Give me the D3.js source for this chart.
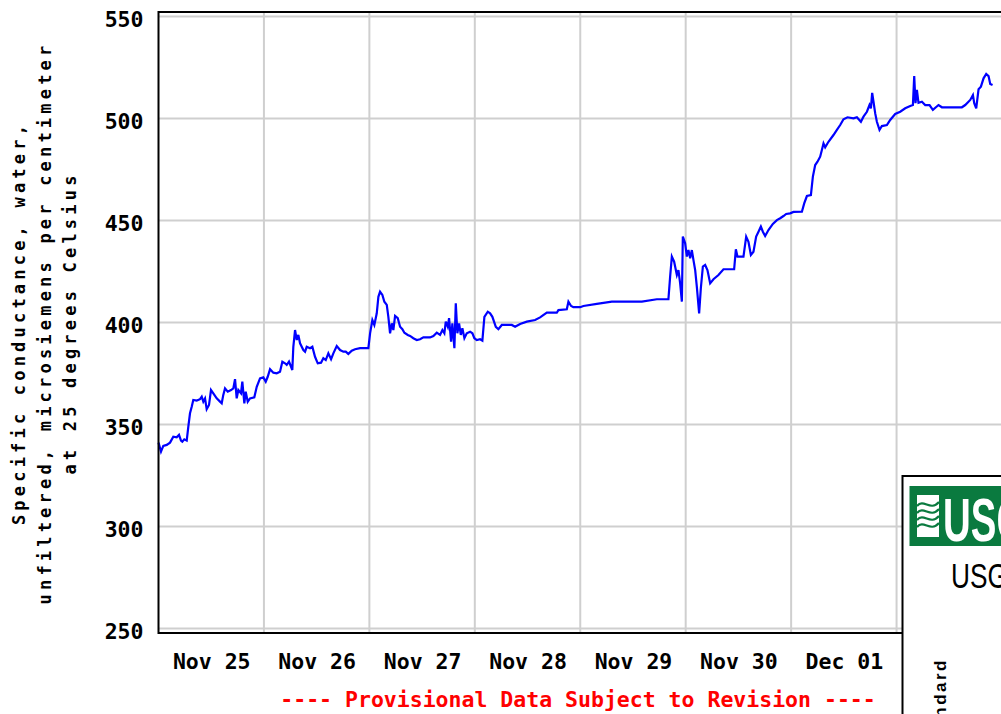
<!DOCTYPE html>
<html><head><meta charset="utf-8">
<script src="https://cdn.jsdelivr.net/npm/d3@7"></script>
<style>body{margin:0;background:#fff;} svg{display:block}</style>
</head><body><svg id="c" width="1001" height="714"></svg>
<script>
// hours since Nov 25 00:00
const hours = [0,0.57,1.09,1.87,2.62,3.37,4.14,4.67,5.12,5.42,5.87,6.42,6.79,7.17,7.56,7.92,8.7,9.45,9.84,10.2,10.59,10.97,11.5,11.95,12.48,13.25,14,14.39,14.75,15.14,15.76,16.51,17.03,17.42,17.8,18.17,18.78,19.08,19.54,19.85,20.31,20.83,21.81,22.36,23.11,23.86,24.41,24.86,25.39,26.14,26.91,27.66,28.19,28.8,29.19,29.71,30.17,30.46,30.69,31.08,31.47,31.83,32.22,32.97,33.36,33.74,34.49,35.02,35.63,36.25,37,37.52,38.07,38.66,39.28,39.8,40.57,41.33,42.08,42.62,43.21,43.99,44.74,45.88,47.77,48.16,48.68,49.13,49.68,50.05,50.43,50.96,51.41,51.96,52.32,52.71,53.1,53.46,53.85,54.46,54.99,55.51,55.97,56.74,57.26,58.01,58.79,59.54,60.29,61.82,62.57,63.34,64.09,64.62,65.07,65.39,65.85,66.14,66.6,66.89,67.35,67.67,68.03,68.42,68.81,69.17,69.63,70.17,70.93,71.45,71.9,72.45,73.2,73.72,74.18,74.95,75.48,76,76.78,77.37,78.14,80.42,81.17,82.31,83.83,85.72,86.86,88.39,90.66,91.03,92.94,93.31,93.92,94.44,95.97,96.72,99.77,103.19,105.83,110.02,113.43,116.07,116.46,116.85,117.37,117.99,118.35,118.74,119.13,119.35,119.88,120.26,120.63,121.02,121.4,121.77,122.16,122.54,123.06,123.45,123.91,124.43,124.95,125.57,126.32,127.46,128.6,131.03,131.42,131.79,133.15,133.77,134.29,134.84,135.43,136.04,136.57,137.11,137.57,138.09,138.84,139.84,140.76,141.51,142.26,142.87,143.78,144.54,146.45,146.98,147.59,148.5,148.95,149.48,150,150.61,151,151.37,151.75,152.5,153.64,154.42,155.17,155.92,156.83,158.2,158.97,159.88,160.47,161.25,161.84,162.16,162.45,162.75,163.14,163.52,164.12,164.66,165.8,166.55,167.69,168.83,169.97,171.11,171.72,172.02,172.31,172.63,172.99,173.77,174.52,175.5,176.27,177.55,178.32,182.87,183.63,184.77,185.38,185.68,186.13,186.66,187.2,187.8,188.41,188.94,189.32,189.85];
// specific conductance, uS/cm
const values = [341.1,336.7,339.5,340.0,341.1,344.0,343.7,344.9,342.1,341.6,342.7,342.1,348.9,355.5,358.7,362.0,361.7,362.4,363.6,361.2,362.8,357.5,359.6,366.9,365.3,362.8,361.2,360.4,364.5,367.7,366.1,366.9,367.7,372.2,362.8,366.9,365.3,371.0,360.4,366.1,361.2,362.8,363.3,368.5,372.6,373.1,371.0,373.4,377.1,375.4,375.1,375.9,380.8,380.0,379.2,380.8,378.3,376.7,388.1,396.3,391.4,393.9,389.8,386.5,385.7,388.1,387.4,388.1,383.2,380.0,380.3,382.5,381.6,384.9,382.0,384.9,388.5,386.5,385.7,385.7,384.6,386.2,386.9,387.4,387.4,394.7,401.2,398.8,404.5,412.6,415.1,413.5,410.2,408.6,402.8,394.7,399.6,396.3,403.2,402.1,397.9,396.7,395.0,393.9,393.4,392.3,391.4,391.8,392.7,392.7,393.4,395.0,393.9,396.3,394.7,400.4,397.9,402.1,390.6,399.6,387.4,409.4,394.7,399.6,393.9,397.2,392.3,394.7,395.5,394.7,392.3,391.4,391.8,391.1,402.8,405.3,404.5,402.8,397.9,396.7,398.8,398.8,397.9,399.3,400.4,401.2,402.5,404.8,404.8,406.1,406.5,410.2,408.1,407.5,407.5,408.1,409.1,410.2,410.2,410.2,411.4,411.4,422.5,432.3,429.8,423.3,425.7,419.2,410.2,442.1,438.8,432.3,435.5,431.5,435.5,430.6,425.7,417.5,404.5,416.8,427.4,428.2,425.7,419.2,421.2,423.3,426.1,426.1,435.9,432.3,432.3,442.1,439.6,433.1,434.7,442.1,444.5,447.0,444.5,442.4,445.3,448.3,450.2,451.1,452.2,453.2,453.5,454.2,454.3,458.4,462.0,462.5,471.5,477.2,478.8,481.3,484.6,487.8,485.9,488.6,491.9,494.4,496.8,499.6,500.6,500.1,500.6,498.4,500.9,503.3,506.6,505.0,512.6,508.2,502.5,498.4,494.4,496.3,496.8,499.3,502.2,503.3,505.0,506.1,506.6,520.8,507.5,514.0,507.7,508.2,506.6,506.6,504.2,506.6,505.5,505.5,506.6,509.1,511.5,507.5,505.0,514.3,515.6,519.7,521.8,520.8,516.9,516.4];
const yTicks = [250,300,350,400,450,500,550];
const dayLabels = ["2023-11-25","2023-11-26","2023-11-27","2023-11-28","2023-11-29","2023-11-30","2023-12-01","2023-12-02"];
const yTitle = ["Specific conductance, water,","unfiltered, microsiemens per centimeter","at 25 degrees Celsius"];
const footnote = "---- Provisional Data Subject to Revision ----";

const MONO = "'DejaVu Sans Mono', monospace";
const svg = d3.select("#c");
const start = new Date(Date.UTC(2023,10,25));
const end = new Date(Date.UTC(2023,11,3));
const L = 158.5, R = 1002, T = 12, B = 633;
const x = d3.scaleUtc().domain([start,end]).range([L,R]);
const y = d3.scaleLinear().domain([250,550]).range([628.5,16.5]);

// grid
const g = svg.append("g");
g.selectAll(".hg").data(yTicks).join("line")
  .attr("x1",L).attr("x2",R).attr("y1",d=>y(d)).attr("y2",d=>y(d))
  .attr("stroke","#cfcfcf").attr("stroke-width",2);
const mids = d3.utcDay.range(d3.utcDay.offset(start,1), end);
g.selectAll(".vg").data(mids).join("line")
  .attr("x1",d=>x(d)).attr("x2",d=>x(d)).attr("y1",T).attr("y2",B)
  .attr("stroke","#cfcfcf").attr("stroke-width",2);

// data line
const pts = d3.zip(hours, values).map(([h,v])=>[new Date(start.getTime()+h*3600e3), v]);
svg.append("path").datum(pts)
  .attr("fill","none").attr("stroke","#0000ff").attr("stroke-width",2.2)
  .attr("stroke-linejoin","miter")
  .attr("d", d3.line().x(d=>x(d[0])).y(d=>y(d[1])));

// frame
svg.append("rect").attr("x",L).attr("y",T).attr("width",R-L).attr("height",B-T)
  .attr("fill","none").attr("stroke","#000").attr("stroke-width",2);

// y axis
const ya = svg.append("g").attr("transform",`translate(${L},0)`)
  .call(d3.axisLeft(y).tickValues(yTicks).tickSize(0).tickPadding(15).tickFormat(d3.format("d")));
ya.select(".domain").remove();
ya.selectAll("text").attr("dy","0.47em")
  .style("font-family",MONO).style("font-weight","bold").style("font-size","21.5px").attr("fill","#000");

// x axis
const noons = dayLabels.map(s=>new Date(Date.parse(s+"T12:00:00Z")));
const xa = svg.append("g").attr("transform",`translate(0,${B})`)
  .call(d3.axisBottom(x).tickValues(noons).tickSize(0).tickPadding(20.7).tickFormat(d3.utcFormat("%b %d")));
xa.select(".domain").remove();
xa.selectAll("text")
  .style("font-family",MONO).style("font-weight","bold").style("font-size","21.5px").attr("fill","#000");

// y title
const tx = [25, 50.5, 76];
svg.selectAll(".yt").data(yTitle).join("text")
  .attr("transform",(d,i)=>`translate(${tx[i]},323) rotate(-90)`)
  .attr("text-anchor","middle")
  .style("font-family",MONO).style("font-weight","bold").style("font-size","17px")
  .style("letter-spacing","4.2px")
  .text(d=>d);

// footnote
svg.append("text").attr("x",578).attr("y",707).attr("text-anchor","middle")
  .style("font-family",MONO).style("font-weight","bold").style("font-size","21.5px")
  .attr("fill","#ff0000").text(footnote);

// USGS legend box (partially visible)
const lg = svg.append("g");
lg.append("rect").attr("x",902.5).attr("y",476).attr("width",200).attr("height",300)
  .attr("fill","#fff").attr("stroke","#000").attr("stroke-width",2);
lg.append("rect").attr("x",909.5).attr("y",486).attr("width",200).attr("height",60).attr("fill","#0a7a3f");
lg.append("rect").attr("x",917).attr("y",495).attr("width",22).attr("height",42).attr("fill","#fff");
[0,1,2,3].forEach(i=>{
  const p = d3.path(); const y0 = 506 + i*7;
  p.moveTo(917,y0); p.bezierCurveTo(924,y0-8,930,y0+6,939,y0-4);
  lg.append("path").attr("d",p.toString()).attr("fill","none").attr("stroke","#0a7a3f").attr("stroke-width",2.2);
});
lg.append("text").attr("transform","translate(943,541) scale(0.62,1)")
  .style("font-family","'Liberation Sans', Arial, sans-serif").style("font-weight","bold").style("font-size","62px")
  .attr("fill","#fff").text("USGS");
lg.append("text").attr("transform","translate(951,588) scale(0.75,1)")
  .style("font-family","'Liberation Sans', Arial, sans-serif").style("font-size","35px")
  .attr("fill","#000").text("USGS");
lg.append("text").attr("transform","translate(946,658) rotate(-90)").attr("text-anchor","end")
  .style("font-family","'Liberation Sans', Arial, sans-serif").style("font-weight","bold").style("font-size","17px")
  .style("letter-spacing","2.5px")
  .attr("fill","#000").text("Standard");
</script></body></html>
